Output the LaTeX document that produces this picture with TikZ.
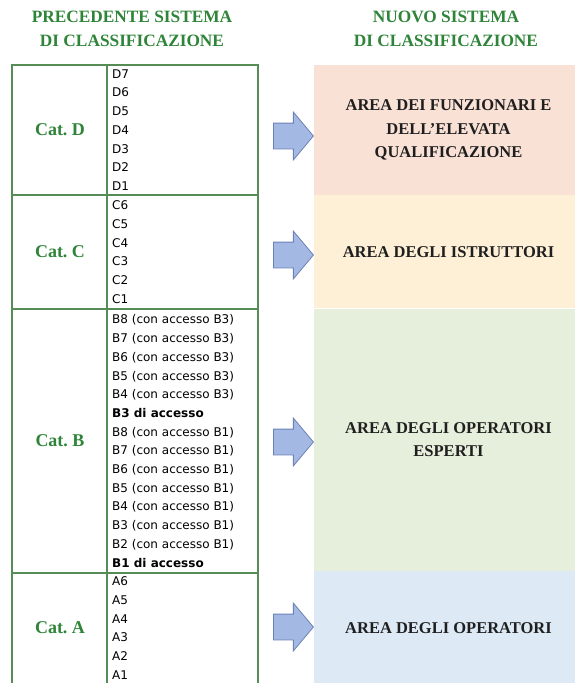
\documentclass[tikz,border=0pt]{standalone}
\usepackage{fontspec}
\setmainfont{Liberation Serif}
\newfontfamily\gradefont{DejaVu Sans}
\usetikzlibrary{positioning, shapes.arrows}

\definecolor{catgreen}{RGB}{46,132,56}
\definecolor{gridgreen}{RGB}{86,140,86}
\definecolor{arrfill}{RGB}{164,184,228}
\definecolor{arrline}{RGB}{108,130,182}
\definecolor{areaD}{RGB}{249,225,214}
\definecolor{areaC}{RGB}{253,240,214}
\definecolor{areaB}{RGB}{229,239,219}
\definecolor{areaA}{RGB}{221,234,246}

\tikzset{
  head/.style={font=\fontsize{17.3}{23.5}\selectfont\bfseries, text=catgreen, align=center},
  cat/.style={font=\fontsize{18}{22}\selectfont\bfseries\frenchspacing, text=catgreen},
  grade/.style={font=\gradefont\fontsize{12}{18.7}\selectfont, align=left, anchor=west, inner sep=0pt},
  area/.style={font=\fontsize{16.5}{23.5}\selectfont\bfseries, text=black!88, align=center,
    minimum width=261pt, inner sep=0pt},
  toarea/.style={single arrow, draw=arrline, fill=arrfill, thick, inner xsep=0pt, inner ysep=12.5pt,
    minimum height=40pt, single arrow head extend=11pt, single arrow tip angle=100}
}

\begin{document}
\begin{tikzpicture}[x=1pt, y=-1pt]
    \useasboundingbox (0,0) rectangle (575,683);
    % headings
    \node[head] (oldhead) at (132,29) {PRECEDENTE SISTEMA\\DI CLASSIFICAZIONE};
    \node[head] (newhead) at (446,29) {NUOVO SISTEMA\\DI CLASSIFICAZIONE};
    % new areas
    \node[area, fill=areaD, minimum height=130pt] (areaD) at (444.5,130) {\hspace*{8pt}AREA DEI FUNZIONARI E\\\hspace*{8pt}DELL'ELEVATA\\\hspace*{8pt}QUALIFICAZIONE};
    \node[area, fill=areaC, minimum height=113pt, below=0pt of areaD] (areaC) {\hspace*{8pt}AREA DEGLI ISTRUTTORI};
    \node[area, fill=areaB, minimum height=262pt, below=0pt of areaC] (areaB) {\hspace*{8pt}AREA DEGLI OPERATORI\\\hspace*{8pt}ESPERTI};
    \node[area, fill=areaA, minimum height=114pt, below=0pt of areaB] (areaA) {\hspace*{8pt}AREA DEGLI OPERATORI};
    % old table
    \draw[gridgreen, line width=1.1pt] (12,65) rectangle (258,690);
    \draw[gridgreen, line width=1.1pt] (107,65) -- (107,690);
    \draw[gridgreen, line width=1.1pt] (12,195) -- (258,195);
    \draw[gridgreen, line width=1.1pt] (12,309) -- (258,309);
    \draw[gridgreen, line width=1.1pt] (12,573) -- (258,573);
    \node[cat] (catD) at (60,130) {Cat. D};
    \node[cat] (catC) at (60,252) {Cat. C};
    \node[cat] (catB) at (60,441) {Cat. B};
    \node[cat] (catA) at (60,628) {Cat. A};
    \node[grade] (listD) at (112,130) {D7\\D6\\D5\\D4\\D3\\D2\\D1};
    \node[grade] (listC) at (112,252) {C6\\C5\\C4\\C3\\C2\\C1};
    \node[grade] (listB) at (112,441) {B8 (con accesso B3)\\B7 (con accesso B3)\\B6 (con accesso B3)\\B5 (con accesso B3)\\B4 (con accesso B3)\\\textbf{B3 di accesso}\\B8 (con accesso B1)\\B7 (con accesso B1)\\B6 (con accesso B1)\\B5 (con accesso B1)\\B4 (con accesso B1)\\B3 (con accesso B1)\\B2 (con accesso B1)\\\textbf{B1 di accesso}};
    \node[grade] (listA) at (112,628) {A6\\A5\\A4\\A3\\A2\\A1};
    % arrows
    \node[toarea] (toD) at (288,136) {};
    \node[toarea] (toC) at (288,255) {};
    \node[toarea] (toB) at (288,442) {};
    \node[toarea] (toA) at (288,627) {};
\end{tikzpicture}
\end{document}
